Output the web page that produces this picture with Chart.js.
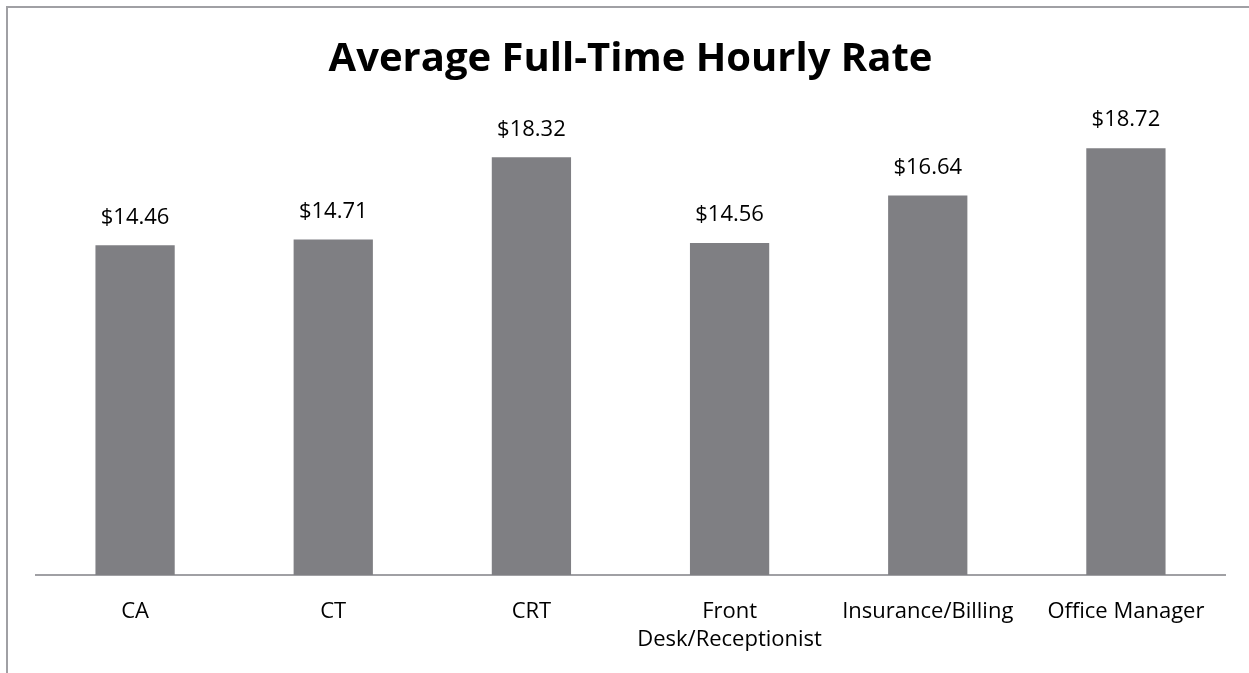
<!DOCTYPE html>
<html>
<head>
<meta charset="utf-8">
<script src="https://cdn.jsdelivr.net/npm/chart.js@4.4.0/dist/chart.umd.min.js"></script>
<style>
  html, body { margin: 0; padding: 0; background: #fff; }
  #frame {
    position: absolute; left: 6px; top: 6px; width: 1300px; height: 700px;
    border-left: 2px solid #a0a0a4; border-top: 2px solid #a0a0a4;
  }
  #chartDiv { position: absolute; left: 0; top: 0; width: 1249px; height: 673px; }
</style>
</head>
<body>
<div id="frame"></div>
<div id="chartDiv"><canvas id="barChart" width="1249" height="673"></canvas></div>
<script>
var categories = ['CA', 'CT', 'CRT', ['Front', 'Desk/Receptionist'], 'Insurance/Billing', 'Office Manager'];
var rates = [14.46, 14.71, 18.32, 14.56, 16.64, 18.72];
var yMin = 0;
var yMax = 20;

var FONT = "'Open Sans', Lato, sans-serif";

// draw the $ values above each bar
var valueLabels = {
  id: 'valueLabels',
  afterDatasetsDraw: function(chart) {
    var ctx = chart.ctx;
    var meta = chart.getDatasetMeta(0);
    ctx.save();
    ctx.font = '22px ' + FONT;
    ctx.fillStyle = '#000';
    ctx.textAlign = 'center';
    ctx.textBaseline = 'middle';
    meta.data.forEach(function(bar, i) {
      ctx.fillText('$' + rates[i].toFixed(2), bar.x, bar.y - 28);
    });
    ctx.restore();
  }
};

function barChart() {
  var ctx = document.getElementById('barChart').getContext('2d');
  myChart = new Chart(ctx, {
    type: 'bar',
    data: {
      labels: categories,
      datasets: [{
        data: rates,
        backgroundColor: '#7f7f83',
        categoryPercentage: 1.0,
        barPercentage: 0.4
      }]
    },
    options: {
      responsive: false,
      animation: false,
      layout: { padding: { left: 36, right: 24, top: 0, bottom: 0 } },
      scales: {
        x: {
          grid: { display: false, drawTicks: false },
          border: { display: true, color: '#a0a0a4', width: 2 },
          afterFit: function(scale) { scale.height = 98; },
          ticks: {
            color: '#000',
            padding: 23,
            maxRotation: 0,
            autoSkip: false,
            font: { family: FONT, size: 22, lineHeight: 1.27 }
          }
        },
        y: {
          display: false,
          min: yMin,
          max: yMax
        }
      },
      plugins: {
        legend: { display: false },
        tooltip: { enabled: false },
        title: {
          display: true,
          text: 'Average Full-Time Hourly Rate',
          color: '#000',
          font: { family: FONT, size: 40, weight: 'bold', lineHeight: 1.2 },
          padding: { top: 36, bottom: 35 }
        }
      }
    },
    plugins: [valueLabels]
  });
}

barChart();
</script>
</body>
</html>
